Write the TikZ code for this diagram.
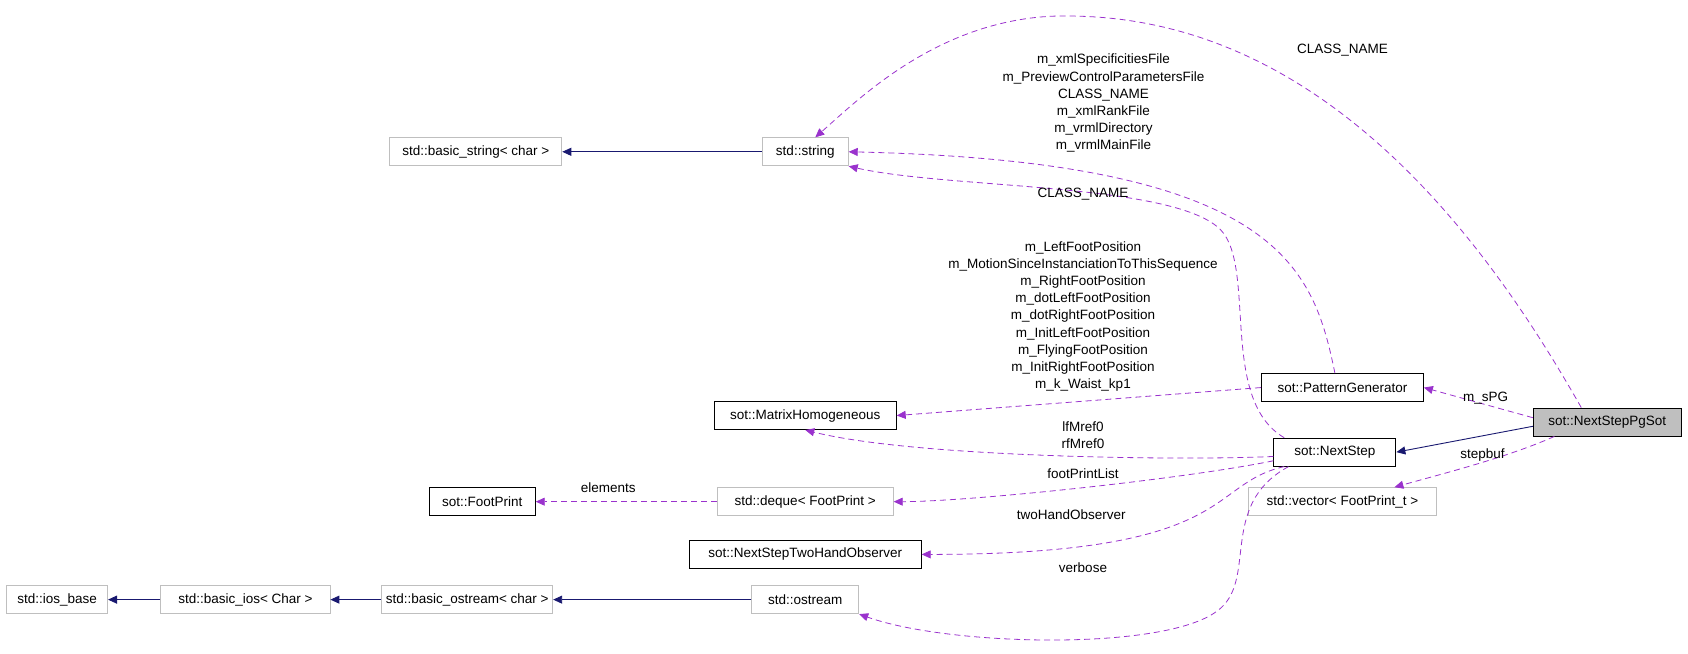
\documentclass[tikz,border=0pt]{standalone}
\usepackage{fontspec}
\setmainfont{Liberation Sans}
\usetikzlibrary{arrows.meta}
\definecolor{std border}{HTML}{BFBFBF}
\definecolor{inherit color}{HTML}{191970}
\definecolor{usage color}{HTML}{9A32CD}
\tikzset{
    x={1.0765pt},
    y={-1.0765pt},
    class/.style={
        draw=black, line width={0.9pt},
        minimum height={28pt}, minimum width={#1},
        inner sep=0pt, font={\fontsize{13.5}{15}\selectfont},
    },
    std class/.style={
        class={#1}, draw=std border,
    },
    inherit/.style={
        draw=inherit color, line width={0.9pt},
        -{Triangle[length=9pt,width=8pt]},
    },
    usage/.style={
        draw=usage color, line width={0.8pt},
        dash pattern=on 6pt off 4pt,
        -{Triangle[length=9pt,width=8pt]},
    },
    member label/.style={
        align=center, inner sep=0pt,
        font={\fontsize{13.5}{17.2}\selectfont},
    },
}
\begin{document}
\begin{tikzpicture}
\useasboundingbox (0,0) rectangle (1568,607);
% classes
\node[std class=172pt] (basicstring) at (442,141) {std::basic\_string< char >};
\node[std class=86pt] (string) at (748,141) {std::string};
\node[class=162pt] (patterngen) at (1247,360) {sot::PatternGenerator};
\node[class=148pt, fill=std border] (pgsot) at (1493,392) {sot::NextStepPgSot};
\node[class=182pt] (matrix) at (748,386) {sot::MatrixHomogeneous};
\node[class=122pt] (nextstep) at (1240,420) {sot::NextStep};
\node[std class=187pt] (vector) at (1247,466) {std::vector< FootPrint\_t >};
\node[class=106pt] (footprint) at (448,466) {sot::FootPrint};
\node[std class=176pt] (deque) at (748,466) {std::deque< FootPrint >};
\node[class=232pt] (twohand) at (748,515) {sot::NextStepTwoHandObserver};
\node[std class=101pt] (iosbase) at (53,557) {std::ios\_base};
\node[std class=169pt] (basicios) at (228,557) {std::basic\_ios< Char >};
\node[std class=171pt] (basicostream) at (434,557) {std::basic\_ostream< char >};
\node[std class=107pt] (ostream) at (748,557) {std::ostream};
\coordinate (top) at (1000,15);
\coordinate (bend) at (1130,210);
\coordinate (low) at (1130,568);
% inheritance
\draw[inherit] (string) -- (basicstring);
\draw[inherit] (pgsot.west) ++(0,4) -- (nextstep.east);
\draw[inherit] (ostream) -- (basicostream);
\draw[inherit] (basicostream) -- (basicios);
\draw[inherit] (basicios) -- (iosbase);
% members
\draw[usage] (pgsot.north west) ++(45,0) .. controls (1390,240) and (1240,20) .. (top) .. controls (880,10) and (800,90) .. ([xshift=10pt]string.north);
\draw[usage] (patterngen.north) ++(-7,0) .. controls (1220,250) and (1190,150) .. (string.east);
\draw[usage] (nextstep.north west) ++(10,0) .. controls (1130,370) and (1170,240) .. (bend) .. controls (1080,170) and (880,175) .. (string.south east);
\draw[usage] (pgsot.west) ++(0,-4) -- (patterngen.east);
\draw[usage] (pgsot.south west) ++(20,0) .. controls (1400,425) and (1340,440) .. ([xshift=52pt]vector.north);
\draw[usage] (patterngen.west) -- (matrix.east);
\draw[usage] (nextstep.west) ++(0,4) .. controls (1100,428) and (850,425) .. (matrix.south);
\draw[usage] (nextstep.west) ++(0,8) .. controls (1100,445) and (900,466) .. (deque.east);
\draw[usage] (nextstep.south west) ++(10,0) .. controls (1120,450) and (1150,515) .. (twohand.east);
\draw[usage] (nextstep.south west) ++(14,0) .. controls (1130,470) and (1170,540) .. (low) .. controls (1080,605) and (880,600) .. (ostream.south east);
\draw[usage] (deque) -- (footprint);
% labels
\node[member label] (lclass) at (1247,47) {CLASS\_NAME};
\node[member label] (lpattern) at (1025,96) {m\_xmlSpecificitiesFile\\m\_PreviewControlParametersFile\\CLASS\_NAME\\m\_xmlRankFile\\m\_vrmlDirectory\\m\_vrmlMainFile};
\node[member label] (lstring) at (1006,180) {CLASS\_NAME};
\node[member label] (lmatrix) at (1006,294) {m\_LeftFootPosition\\m\_MotionSinceInstanciationToThisSequence\\m\_RightFootPosition\\m\_dotLeftFootPosition\\m\_dotRightFootPosition\\m\_InitLeftFootPosition\\m\_FlyingFootPosition\\m\_InitRightFootPosition\\m\_k\_Waist\_kp1};
\node[member label] (lspg) at (1380,370) {m\_sPG};
\node[member label] (lstep) at (1377,423) {stepbuf};
\node[member label] (lmref) at (1006,404) {lfMref0\\rfMref0};
\node[member label] (lfoot) at (1006,440) {footPrintList};
\node[member label] (lelem) at (565,453) {elements};
\node[member label] (ltwo) at (995,478) {twoHandObserver};
\node[member label] (lverb) at (1006,527) {verbose};
\end{tikzpicture}
\end{document}
